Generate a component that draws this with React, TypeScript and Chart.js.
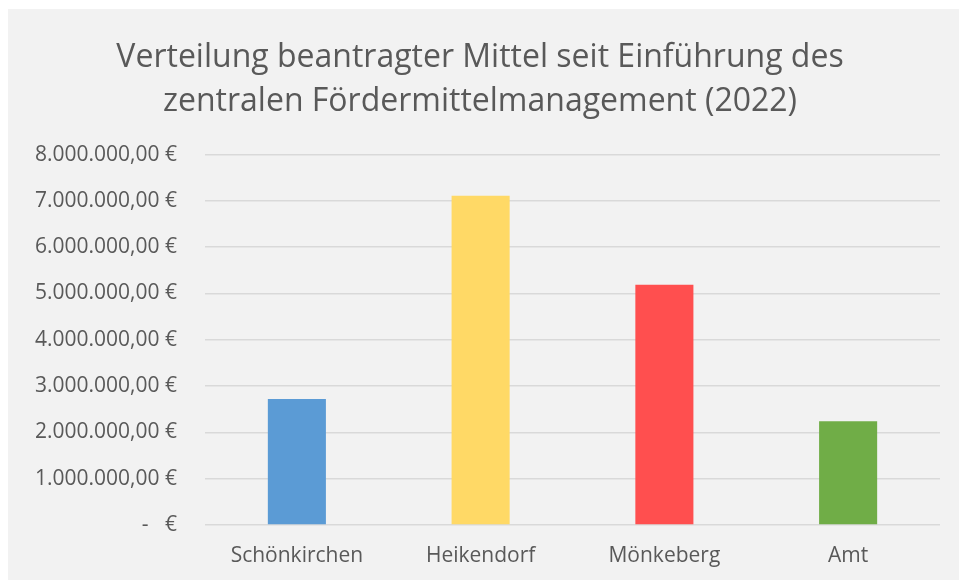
import React, { useEffect, useRef } from "react";
import { Chart, registerables } from "chart.js";

Chart.register(...registerables);

const categories = ["Schönkirchen", "Heikendorf", "Mönkeberg", "Amt"];
const values = [2720000, 7110000, 5190000, 2240000];
const barColors = ["#5b9bd5", "#ffd966", "#ff4f4f", "#70ad47"];
const titleLines = [
  "Verteilung beantragter Mittel seit Einführung des",
  "zentralen Fördermittelmanagement (2022)",
];
const yMax = 8000000;
const yStep = 1000000;

function formatEuro(v: number): string {
  if (v === 0) return "-   €";
  const s = Math.round(v).toString().replace(/\B(?=(\d{3})+(?!\d))/g, ".");
  return s + ",00 €";
}

export default function App() {
  const ref = useRef<HTMLCanvasElement | null>(null);
  useEffect(() => {
    if (!ref.current) return;
    const chart = new Chart(ref.current, {
      type: "bar",
      data: {
        labels: categories,
        datasets: [
          {
            data: values,
            backgroundColor: barColors,
            borderWidth: 0,
            barPercentage: 0.316,
            categoryPercentage: 1,
          },
        ],
      },
      options: {
        animation: false,
        responsive: false,
        maintainAspectRatio: false,
        layout: { padding: { left: 12, right: 19, top: 0, bottom: 0 } },
        plugins: {
          legend: { display: false },
          tooltip: { enabled: false },
          title: {
            display: true,
            text: titleLines,
            color: "#595959",
            font: { family: "Open Sans", size: 32, weight: "normal", lineHeight: 1.4 },
            padding: { top: 26, bottom: 30 },
          },
        },
        scales: {
          x: {
            grid: { display: false },
            border: { display: false },
            ticks: {
              color: "#595959",
              font: { family: "Open Sans", size: 21, lineHeight: 1.0 },
              padding: 13,
            },
          },
          y: {
            min: 0,
            max: yMax,
            afterFit: (s: any) => {
              s.width = 185;
            },
            border: { display: false },
            grid: { color: "#d9d9d9", lineWidth: 1.5, drawTicks: false },
            ticks: {
              stepSize: yStep,
              color: "#595959",
              font: { family: "Open Sans", size: 21 },
              padding: 28,
              callback: (v: any) => formatEuro(Number(v)),
            },
          },
        },
      },
    });
    return () => chart.destroy();
  }, []);
  return (
    <div
      style={{
        position: "absolute",
        left: 8,
        top: 9,
        width: 951,
        height: 571,
        background: "#f2f2f2",
      }}
    >
      <canvas ref={ref} width={951} height={571} style={{ display: "block" }} />
    </div>
  );
}
